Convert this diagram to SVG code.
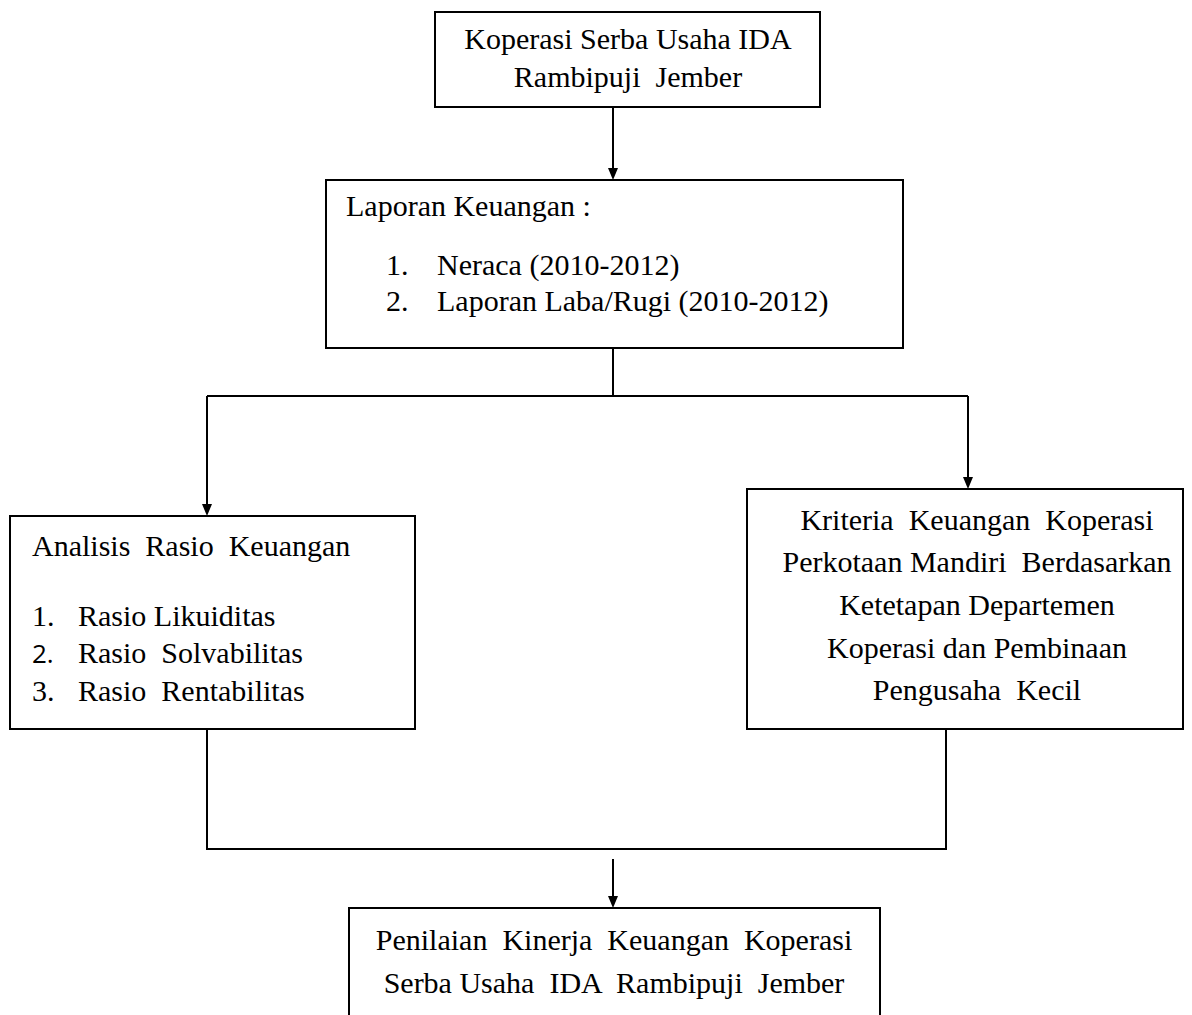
<svg xmlns="http://www.w3.org/2000/svg" width="1192" height="1015" viewBox="0 0 1192 1015">
<style>
.box{fill:#fff;stroke:#000;stroke-width:2}
.t{font-family:"Liberation Serif","Times New Roman",serif;font-size:30px;fill:#000}
.c{text-anchor:middle}
.ln{fill:none;stroke:#000;stroke-width:2}
.sans{font-family:"Open Sans","Liberation Sans",sans-serif;font-size:26px}
.ah{fill:#000}
</style>
<rect width="1192" height="1015" fill="#fff"/>
<g id="connectors">
<path class="ln" d="M613,107 V168"/>
<path class="ah" d="M608,168 L618,168 L613,180 Z"/>
<path class="ln" d="M613,348 V396 M207,396 H968 M207,396 V504 M968,396 V477"/>
<path class="ah" d="M202,504 L212,504 L207,516 Z"/>
<path class="ah" d="M963,477 L973,477 L968,489 Z"/>
<path class="ln" d="M207,729 V849 H946 V729"/>
<path class="ln" d="M613,859 V896"/>
<path class="ah" d="M608,896 L618,896 L613,908 Z"/>
</g>
<g id="node-koperasi">
<rect class="box" x="435" y="12" width="385" height="95"/>
<text class="t c" x="628" y="49">Koperasi Serba Usaha IDA</text>
<text class="t c" x="628" y="87" xml:space="preserve">Rambipuji  Jember</text>
</g>
<g id="node-laporan">
<rect class="box" x="326" y="180" width="577" height="168"/>
<text class="t" x="346" y="216">Laporan Keuangan :</text>
<text class="t" x="386" y="275">1.</text>
<text class="t" x="437" y="275">Neraca (2010-2012)</text>
<text class="t" x="386" y="311">2.</text>
<text class="t" x="437" y="311">Laporan Laba/Rugi (2010-2012)</text>
</g>
<g id="node-analisis">
<rect class="box" x="10" y="516" width="405" height="213"/>
<text class="t" x="32" y="556" xml:space="preserve">Analisis  Rasio  Keuangan</text>
<text class="t" x="32" y="626">1.</text>
<text class="t" x="78" y="626">Rasio Likuiditas</text>
<text class="t sans" x="32" y="663">2.</text>
<text class="t" x="78" y="663" xml:space="preserve">Rasio  Solvabilitas</text>
<text class="t" x="32" y="701">3.</text>
<text class="t" x="78" y="701" xml:space="preserve">Rasio  Rentabilitas</text>
</g>
<g id="node-kriteria">
<rect class="box" x="747" y="489" width="436" height="240"/>
<text class="t c" x="977" y="530" xml:space="preserve">Kriteria  Keuangan  Koperasi</text>
<text class="t c" x="977" y="572" xml:space="preserve">Perkotaan Mandiri  Berdasarkan</text>
<text class="t c" x="977" y="615">Ketetapan Departemen</text>
<text class="t c" x="977" y="658">Koperasi dan Pembinaan</text>
<text class="t c" x="977" y="700" xml:space="preserve">Pengusaha  Kecil</text>
</g>
<g id="node-penilaian">
<rect class="box" x="349" y="908" width="531" height="120"/>
<text class="t c" x="614" y="950" xml:space="preserve">Penilaian  Kinerja  Keuangan  Koperasi</text>
<text class="t c" x="614" y="993" xml:space="preserve">Serba Usaha  IDA  Rambipuji  Jember</text>
</g>
</svg>
